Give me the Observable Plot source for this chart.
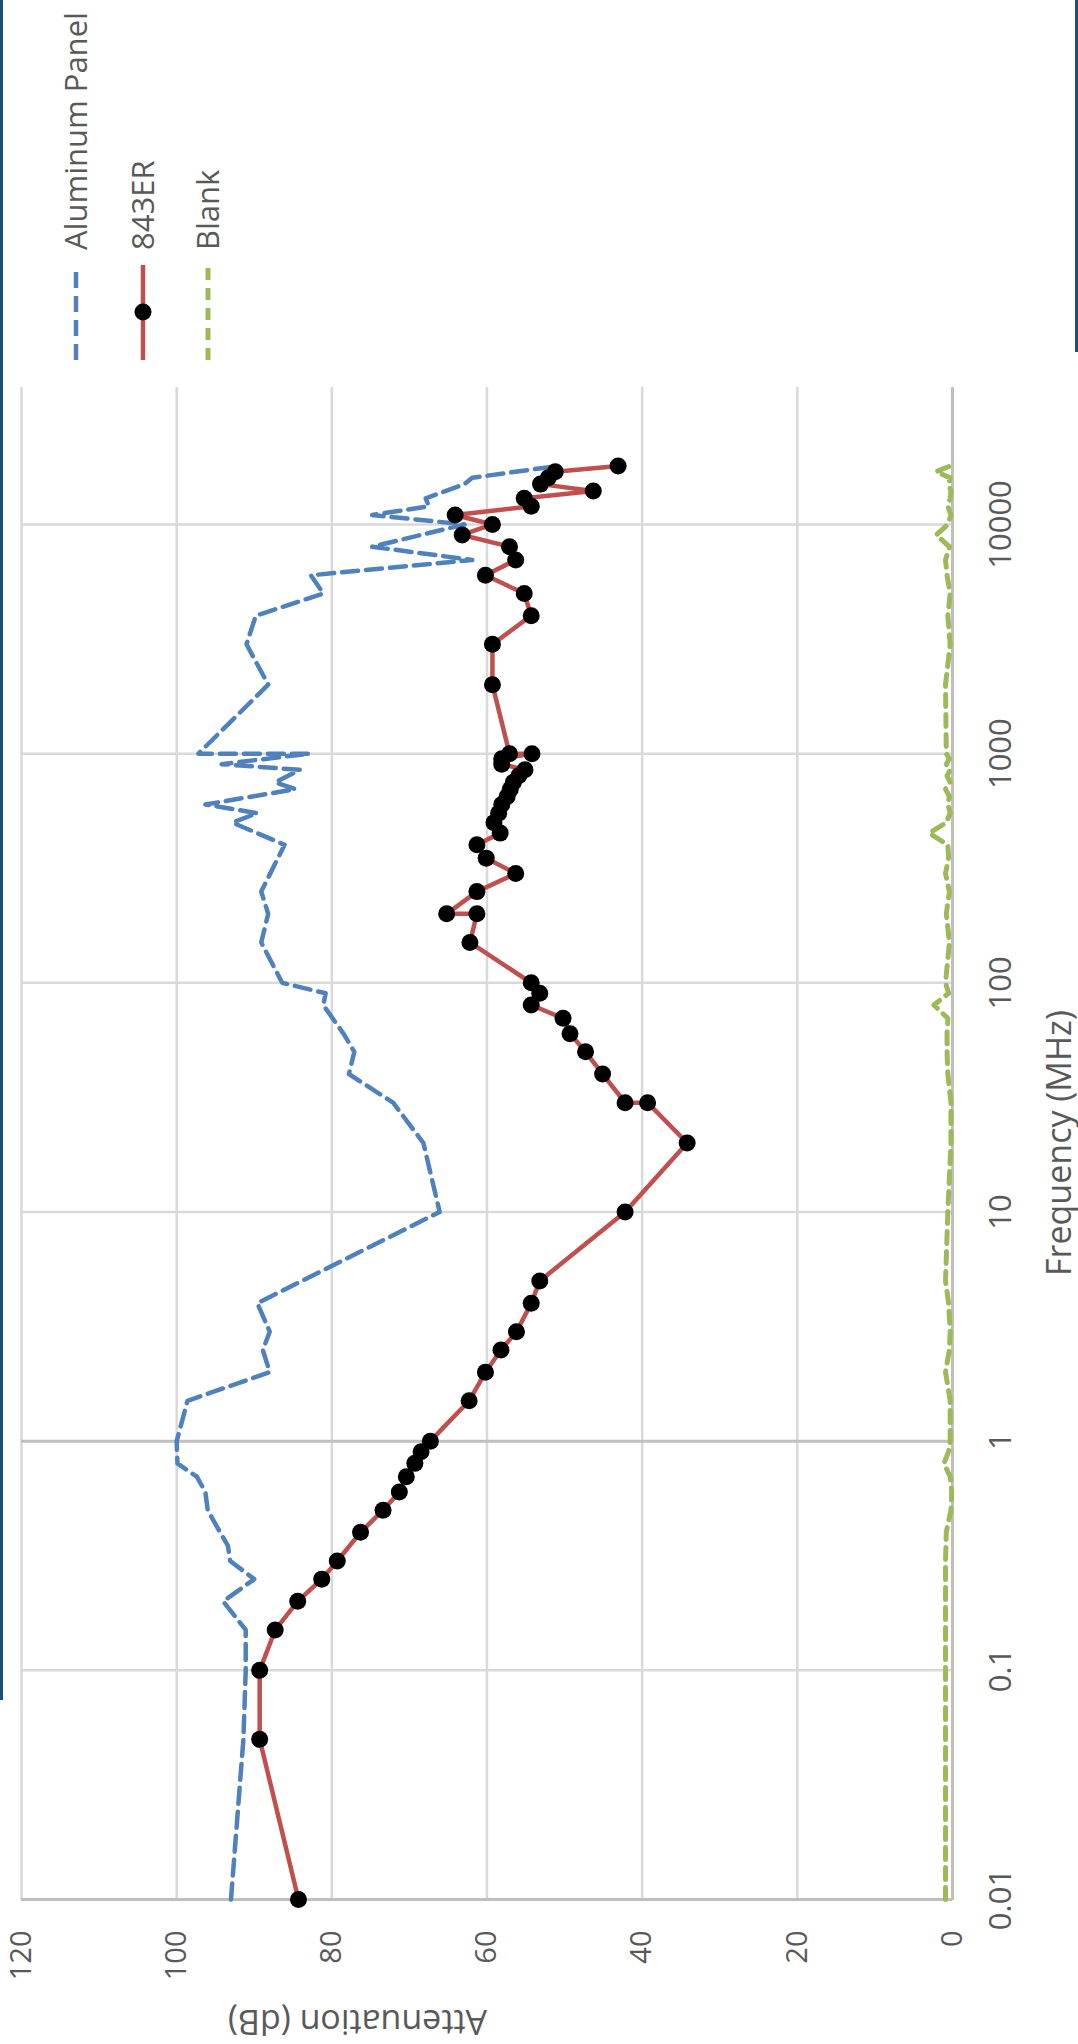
<!DOCTYPE html>
<html><head><meta charset="utf-8">
<script src="https://cdn.jsdelivr.net/npm/d3@7"></script>
<script src="https://cdn.jsdelivr.net/npm/@observablehq/plot@0.6"></script>
<style>
html,body{margin:0;padding:0;background:#fff;}
body{width:1078px;height:2044px;overflow:hidden;position:relative;}
#wrap{position:absolute;left:0;top:0;width:2044px;height:1078px;transform-origin:0 0;transform:translateY(2044px) rotate(-90deg);}
#legend{position:absolute;left:1660px;top:0;}
.edge{position:absolute;background:#1f4e79;}
</style></head><body>
<div id="wrap"></div>
<div class="edge" style="left:0;top:0;width:3px;height:1700px"></div>
<div class="edge" style="left:1075px;top:0;width:3px;height:352px"></div>
<script>
// ---- data ----
const seriesNames = ["Aluminum Panel", "843ER", "Blank"];
const freqTicks = [0.01, 0.1, 1, 10, 100, 1000, 10000];
const dbTicks = [0, 20, 40, 60, 80, 100, 120];

const alFreq = [0.01,0.05,0.1,0.15,0.2,0.25,0.3,0.35,0.4,0.5,0.6,0.7,0.8,1,1.5,2,2.5,3,4,10,20,30,40,50,60,80,90,100,150,200,250,400,500,550,600,700,750,850,900,1000,1000,2000,3000,4000,5000,6000,7000,8000,10000,11000,12000,13000,15000,16000,18000];
const alDb = [93.0,91.4,91.1,91.1,94.0,90.0,93.1,93.4,94.4,96.0,96.3,97.4,99.9,100,98.6,88.0,88.9,88.0,89.6,66.1,68.2,72.1,77.8,77.1,78.5,81.1,80.8,86.4,89.1,88.2,89.1,86.1,92.8,89.6,96.3,84.7,87.3,84.1,94.2,82.9,97.2,88.2,91.0,89.8,81.1,82.7,61.9,74.8,62.9,74.8,67.5,67.9,62.9,61.9,50.9];

const erFreq = [0.01,0.05,0.1,0.15,0.2,0.25,0.3,0.4,0.5,0.6,0.7,0.8,0.9,1,1.5,2,2.5,3,4,5,10,20,30,30,40,50,60,70,80,90,100,150,200,200,250,300,350,400,450,500,550,600,650,700,750,800,850,900,950,1000,1000,2000,3000,4000,5000,6000,7000,8000,9000,10000,11000,12000,13000,14000,15000,16000,17000,18000];
const erDb = [84.3,89.3,89.3,87.3,84.4,81.3,79.3,76.3,73.4,71.3,70.4,69.3,68.5,67.3,62.3,60.2,58.2,56.2,54.3,53.2,42.2,34.2,39.3,42.2,45.1,47.3,49.3,50.2,54.3,53.2,54.3,62.2,61.3,65.2,61.3,56.3,60.1,61.3,58.3,59.1,58.5,58.1,57.4,57.0,56.6,55.9,55.1,58.1,58.1,54.2,57.1,59.3,59.3,54.3,55.2,60.2,56.3,57.1,63.2,59.3,64.1,54.3,55.2,46.3,53.1,52.1,51.2,43.1];

const blFreq = [0.01,0.05,0.1,0.15,0.2,0.25,0.3,0.4,0.5,0.6,0.7,0.8,0.9,1,1.5,2,2.5,3,4,5,10,20,30,40,50,60,70,80,90,100,150,200,250,300,350,400,450,500,550,600,650,700,750,800,850,900,950,1000,2000,3000,4000,5000,6000,7000,8000,9000,10000,11000,12000,13000,14000,15000,16000,17000,18000];
const blDb = [0.9,0.9,0.9,0.9,0.9,0.9,0.9,0.8,0.2,0.1,0.3,1.1,0.5,0.3,0.3,0.9,0.4,0.3,0.5,0.9,0.6,0.2,0.2,0.6,0.7,0.7,0.6,2.4,0.5,0.9,0.4,0.8,0.4,0.9,0.5,0.6,3.0,0.8,0.3,0.6,0.4,0.9,0.3,0.7,0.3,0.8,0.4,0.8,0.9,0.3,0.6,0.3,0.7,0.9,0.4,2.1,0.6,0.2,0.6,0.3,0.2,0.5,0.3,2.1,0.3];

// ---- styles ----
const colors = ["#4f81bd", "#c0504d", "#9bbb59"];
const dashes = ["16,8", null, "12,8"];
const widths = [4.5, 4.5, 5];
const dotR = 8.5;
const textColor = "#595959";
const font = "'Open Sans', 'Noto Sans', sans-serif";

const zip = (f, v) => f.map((d, i) => ({f: d, v: v[i]}));
const al = zip(alFreq, alDb), er = zip(erFreq, erDb), bl = zip(blFreq, blDb);

const chart = Plot.plot({
  width: 2044, height: 1078,
  marginLeft: 144, marginRight: 387, marginTop: 21, marginBottom: 126,
  x: {type: "log", domain: [0.01, 40000]},
  y: {domain: [0, 120]},
  style: {fontFamily: font, background: "white", overflow: "visible"},
  marks: [
    Plot.ruleX(freqTicks.filter(f => f !== 0.01 && f !== 1), {stroke: "#d9d9d9", strokeWidth: 2.5}),
    Plot.ruleY(dbTicks.filter(d => d !== 0), {stroke: "#d9d9d9", strokeWidth: 2.5}),
    Plot.ruleX([freqTicks[0], 1], {stroke: "#bfbfbf", strokeWidth: 3}),
    Plot.ruleY([0], {stroke: "#bfbfbf", strokeWidth: 3}),
    Plot.axisX({ticks: freqTicks, tickFormat: d => String(d), tickSize: 0, tickPadding: 36, fontSize: 31, fill: textColor, label: null}),
    Plot.axisY({ticks: dbTicks, tickSize: 0, tickPadding: 31, fontSize: 29, fill: textColor, label: null}),
    Plot.line(al, {x: "f", y: "v", stroke: colors[0], strokeWidth: widths[0], strokeDasharray: dashes[0]}),
    Plot.line(bl, {x: "f", y: "v", stroke: colors[2], strokeWidth: widths[2], strokeDasharray: dashes[2]}),
    Plot.line(er, {x: "f", y: "v", stroke: colors[1], strokeWidth: widths[1]}),
    Plot.dot(er, {x: "f", y: "v", r: dotR, fill: "black"}),
    Plot.text(["Frequency (MHz)"], {frameAnchor: "bottom", dy: 108, lineAnchor: "middle", fontSize: 34, fill: textColor}),
    Plot.text(["Attenuation (dB)"], {frameAnchor: "left", dx: -121, rotate: -90, lineAnchor: "middle", fontSize: 34, fill: textColor})
  ]
});
document.getElementById("wrap").appendChild(chart);

// ---- legend ----
const rowY = [76, 143, 208];
const lg = d3.select("#wrap").append("svg").attr("id", "legend")
  .attr("width", 384).attr("height", 260).style("font-family", font);
seriesNames.forEach((name, i) => {
  const g = lg.append("g").attr("transform", `translate(0,${rowY[i]})`);
  g.append("line").attr("x1", 24).attr("x2", 119).attr("y1", 0).attr("y2", 0)
    .attr("stroke", colors[i]).attr("stroke-width", widths[i])
    .attr("stroke-dasharray", dashes[i]);
  if (i === 1) g.append("circle").attr("cx", 72).attr("cy", 0).attr("r", dotR).attr("fill", "black");
  g.append("text").attr("x", 134).attr("y", 0).attr("dy", "0.35em")
    .attr("font-size", 31).attr("fill", textColor).text(name);
});
</script>
</body></html>
